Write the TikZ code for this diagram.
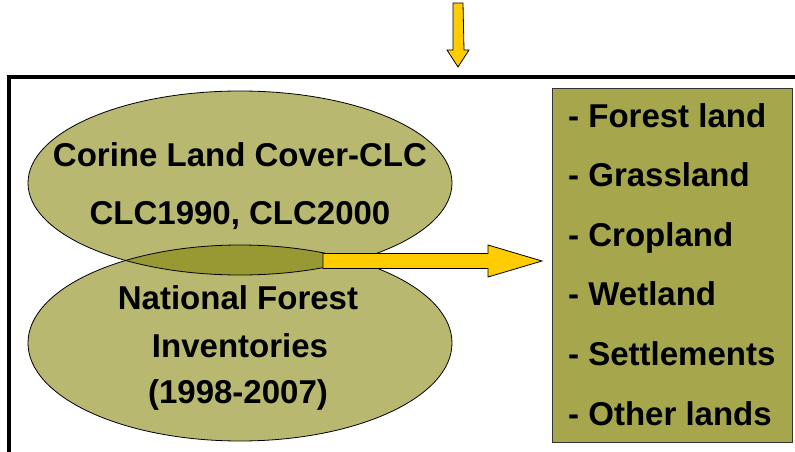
\documentclass[tikz,border=0pt]{standalone}
\usepackage{fontspec}
\setmainfont{Liberation Sans}
\usetikzlibrary{positioning,calc}
\definecolor{olivelight}{RGB}{184,184,112}
\definecolor{olivedark}{RGB}{153,153,51}
\definecolor{olivebox}{RGB}{166,166,77}
\definecolor{gold}{RGB}{255,204,0}
\tikzset{
  lbl/.style={font=\fontsize{33}{38}\selectfont\bfseries, inner sep=0pt, anchor=base},
  blockarrow/.style={fill=gold, draw=black, line width=0.8pt, line join=miter},
}

\begin{document}
\begin{tikzpicture}[x=1pt,y=-1pt]
    \clip (0,0) rectangle (795,452);
    % frame, open to the right and bottom
    \draw[line width=4pt] (9,470) |- (810,77);
    % the two data sources and their overlap
    \coordinate (clc) at (240,183);
    \coordinate (nfi) at (240,343);
    \fill[olivelight] (clc) ellipse (212 and 92);
    \fill[olivelight] (nfi) ellipse (212 and 98);
    \begin{scope}
      \clip (clc) ellipse (212 and 92);
      \fill[olivedark] (nfi) ellipse (212 and 98);
    \end{scope}
    \draw[line width=0.8pt] (clc) ellipse (212 and 92);
    \draw[line width=0.8pt] (nfi) ellipse (212 and 98);
    \node[lbl] (clc1) at (240,166) {Corine Land Cover-CLC};
    \node[lbl] (clc2) at (240,224) {CLC1990, CLC2000};
    \node[lbl] (nfi1) at (238,309) {National Forest};
    \node[lbl] (nfi2) at (240,357) {Inventories};
    \node[lbl] (nfi3) at (238,403) {(1998-2007)};
    % land use categories
    \node[draw=black!80, fill=olivebox, line width=0.8pt, minimum width=240pt, minimum height=354pt,
          inner sep=0pt, anchor=north west] (cat) at (552,88) {};
    \foreach \t [count=\i from 0] in {Forest land,Grassland,Cropland,Wetland,Settlements,Other lands} {
      \node[lbl, anchor=base west] (c\i) at (568,{127+59.6*\i}) {- \t};
    }
    % arrows
    \coordinate (src) at (458,3);
    \draw[blockarrow] ($(src)+(-5,0)$) -- ++(0,47) -- ++(-6,0) -- (458,67)
      -- (469,50) -- ++(-5,0) -- ($(src)+(5,0)$) -- cycle;
    \coordinate (lens) at (323,261);
    \draw[blockarrow] ($(lens)+(0,-7.5)$) -- (488,253.5) -- (488,245)
      -- ($(cat.west |- lens)+(-10,0)$) -- (488,277) -- (488,268.5) -- ($(lens)+(0,7.5)$) -- cycle;
\end{tikzpicture}
\end{document}
